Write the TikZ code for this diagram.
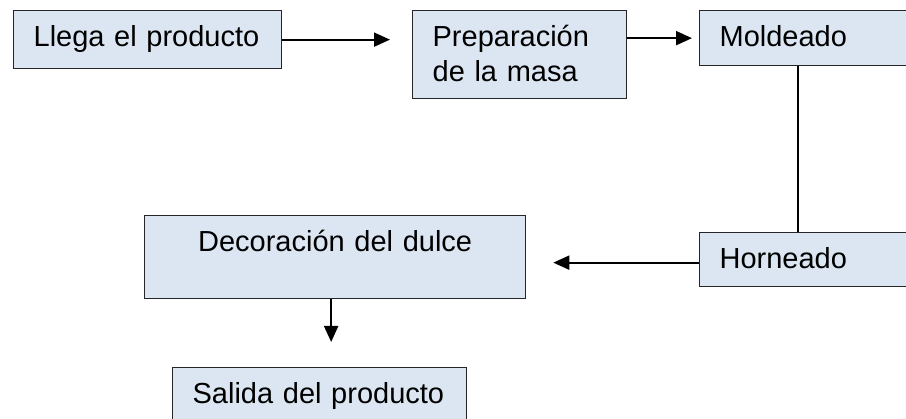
\documentclass[tikz,border=0pt]{standalone}
\usepackage{fontspec}
\setmainfont{Liberation Sans}
\usetikzlibrary{arrows.meta}
\definecolor{boxfill}{HTML}{DCE6F2}

\begin{document}
\begin{tikzpicture}[x=1pt,y=-1pt,
		box/.style={draw=black!85, fill=boxfill, line width=1.3pt, anchor=north west,
			inner xsep=20pt, inner ysep=13pt, text height=23pt, align=left,
			font=\fontsize{29}{35.3}\selectfont},
		flow/.style={line width=2pt, -{Triangle[length=16pt,width=14pt]}}]
		\useasboundingbox (0,0) rectangle (906,419);
		% boxes
		\node [box, text width=228pt, text depth=9pt] (llega) at (13,10) {Llega el producto};
		\node [box, text width=174pt, text depth=39pt] (prep) at (412,10) {Preparación\\de la masa};
		\node [box, text width=200pt, text depth=6pt] (mold) at (699,10) {Moldeado};
		\node [box, text width=200pt, text depth=5pt] (horn) at (699,232) {Horneado};
		\node [box, text width=341pt, text depth=34pt, align=center] (decor) at (144,215) {Decoración del dulce};
		\node [box, text width=254pt, text depth=21pt] (salida) at (172,367) {Salida del producto};
		% connectors
		\draw [flow, shorten >=22pt] (llega.east) -- (llega.east -| prep.west);
		\draw [flow, shorten >=7pt] (prep.east |- mold.west) -- (mold.west);
		\draw [line width=2pt] ([xshift=99pt]mold.south west) -- ([xshift=99pt]horn.north west);
		\draw [flow, shorten >=27pt] ([yshift=-3pt]horn.west) -- ([yshift=-3pt]horn.west -| decor.east);
		\draw [flow, shorten >=25pt] ([xshift=-4pt]decor.south) -- ([xshift=-4pt]decor.south |- salida.north);
\end{tikzpicture}
\end{document}
